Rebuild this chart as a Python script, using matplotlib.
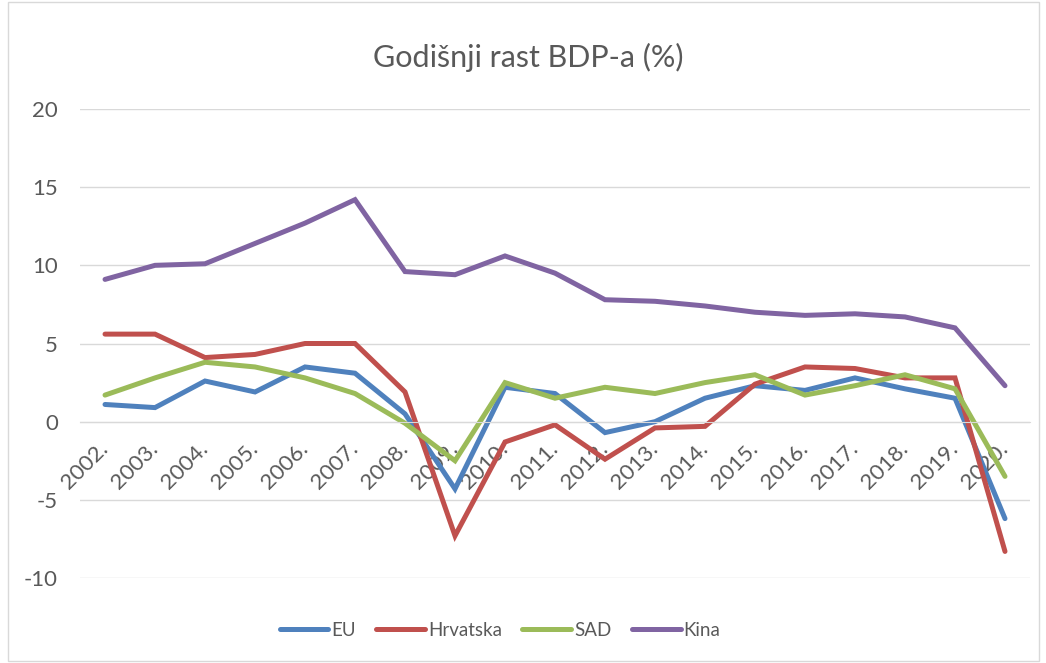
import matplotlib.pyplot as plt
from matplotlib.patches import Rectangle

# Godisnji rast BDP-a, vrijednosti ocitane sa slike
godine = ["2002.", "2003.", "2004.", "2005.", "2006.", "2007.", "2008.", "2009.", "2010.", "2011.",
          "2012.", "2013.", "2014.", "2015.", "2016.", "2017.", "2018.", "2019.", "2020."]
eu = [1.1, 0.9, 2.6, 1.9, 3.5, 3.1, 0.5, -4.3, 2.2, 1.8, -0.7, 0.0, 1.5, 2.3, 2.0, 2.8, 2.1, 1.5, -6.2]
hrvatska = [5.6, 5.6, 4.1, 4.3, 5.0, 5.0, 1.9, -7.3, -1.3, -0.2, -2.4, -0.4, -0.3, 2.4, 3.5, 3.4, 2.8, 2.8, -8.3]
sad = [1.7, 2.8, 3.8, 3.5, 2.8, 1.8, -0.1, -2.5, 2.5, 1.5, 2.2, 1.8, 2.5, 3.0, 1.7, 2.3, 3.0, 2.1, -3.5]
kina = [9.1, 10.0, 10.1, 11.4, 12.7, 14.2, 9.6, 9.4, 10.6, 9.5, 7.8, 7.7, 7.4, 7.0, 6.8, 6.9, 6.7, 6.0, 2.3]

serije = [("EU", eu, "#4F81BD"), ("Hrvatska", hrvatska, "#C0504D"),
          ("SAD", sad, "#9BBB59"), ("Kina", kina, "#8064A2")]

plt.rcParams['font.family'] = ['Lato', 'DejaVu Sans']
plt.rcParams['axes.unicode_minus'] = False
siva = "#595959"

fig = plt.figure(figsize=(10.46, 6.63), dpi=100)
ax = fig.add_axes([0.0765, 0.1282, 0.9082, 0.7074])
ax.set_axisbelow(True)

x = list(range(len(godine)))
for ime, vrijednosti, boja in serije:
    ax.plot(x, vrijednosti, color=boja, lw=3.6, label=ime, solid_capstyle='round', solid_joinstyle='miter')

ax.set_xlim(-0.5, len(godine) - 0.5)
ax.set_ylim(-10, 20)
ax.set_yticks([-10, -5, 0, 5, 10, 15, 20])
ax.grid(axis='y', color="#D9D9D9", lw=1.0)
for s in ["top", "right", "left"]:
    ax.spines[s].set_visible(False)
ax.spines["bottom"].set_position(("data", 0))
ax.spines["bottom"].set_color("#D9D9D9")
ax.tick_params(axis='y', length=0, pad=16, labelsize=16, labelcolor=siva)
ax.tick_params(axis='x', length=0, pad=17, labelsize=16, labelcolor=siva)
ax.set_xticks(x)
ax.set_xticklabels(godine, rotation=45, ha='right', va='center', rotation_mode='anchor')

fig.text(0.505, 0.913, "Godišnji rast BDP-a (%)", ha='center', va='center', fontsize=22, color=siva)

fig.legend(loc='center', bbox_to_anchor=(0.478, 0.049), ncol=4, frameon=False, fontsize=13.5,
           handlelength=2.6, handletextpad=0.15, columnspacing=1.1, labelcolor=siva)

fig.patches.append(Rectangle((0.008, 0.003), 0.985, 0.994, transform=fig.transFigure,
                             fill=False, edgecolor="#D9D9D9", lw=1.0))

fig.savefig("out.png", dpi=100)
